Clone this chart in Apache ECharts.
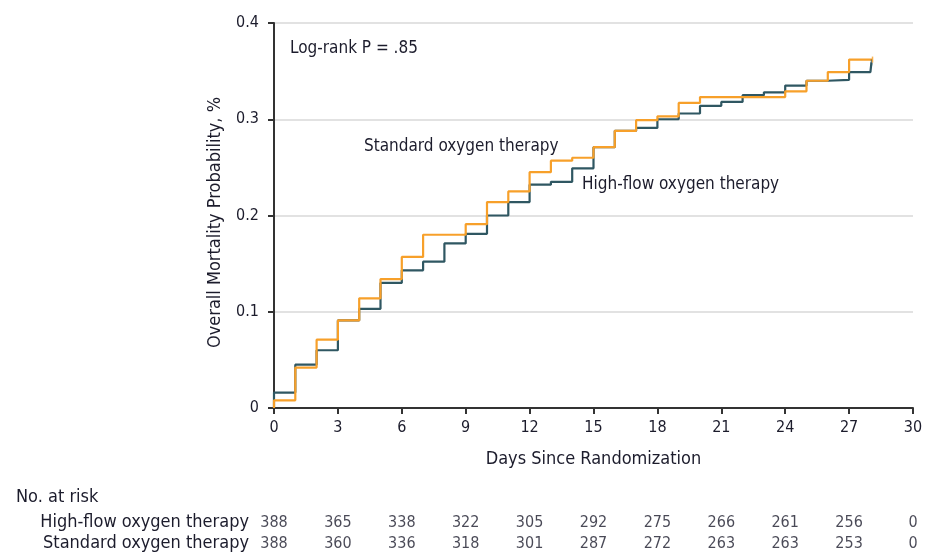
<!DOCTYPE html>
<html>
<head>
<meta charset="utf-8">
<script src="https://cdn.jsdelivr.net/npm/echarts@6/dist/echarts.min.js"></script>
<style>
html,body{margin:0;padding:0;background:#fff;}
#chart{width:928px;height:554px;}
</style>
</head>
<body>
<div id="chart"></div>
<script>
// ---- data ----
var stepDays = [0,1,2,3,4,5,6,7,8,9,10,11,12,13,14,15,16,17,18,19,20,21,22,23,24,25,26,27];
var highFlow = [0.016,0.045,0.060,0.091,0.103,0.130,0.143,0.152,0.171,0.181,0.200,0.214,0.232,0.235,0.249,0.271,0.288,0.291,0.300,0.306,0.314,0.318,0.325,0.328,0.335,0.340,0.341,0.349];
var highFlowEnd = [28, 28.05, 0.359];
var standard = [0.008,0.042,0.071,0.091,0.114,0.134,0.157,0.180,0.180,0.191,0.214,0.225,0.245,0.257,0.260,0.271,0.288,0.299,0.303,0.317,0.323,0.323,0.323,0.323,0.329,0.340,0.349,0.362];
var standardEnd = [28.1, 28.1, 0.362];
var riskDays = [0,3,6,9,12,15,18,21,24,27,30];
var riskHighFlow = [388,365,338,322,305,292,275,266,261,256,0];
var riskStandard = [388,360,336,318,301,287,272,263,263,253,0];
var groupNames = ['High-flow oxygen therapy','Standard oxygen therapy'];
var yTicks = ['0','0.1','0.2','0.3','0.4'];

var FONT = '"Liberation Sans Narrow","DejaVu Sans Condensed","Roboto Condensed","Liberation Sans",sans-serif';
var TXT = '#1c1c2c';

function buildSteps(vals, endInfo){
  var d = [[0,0]];
  for (var i=0;i<stepDays.length;i++){ d.push([stepDays[i], vals[i]]); }
  d.push([endInfo[0], vals[vals.length-1]]);
  d.push([endInfo[1], endInfo[2]]);
  return d;
}
function riskData(arr, row){
  return riskDays.map(function(d,i){ return [d, row, arr[i]]; });
}

var chart = echarts.init(document.getElementById('chart'), null, {renderer:'canvas'});
chart.setOption({
  animation:false,
  backgroundColor:'#fff',
  textStyle:{fontFamily:FONT, color:TXT},
  grid:[
    {left:274, right:15, top:23, bottom:146},
    {left:274, right:15, top:512, height:46}
  ],
  xAxis:[
    {gridIndex:0, type:'value', min:0, max:30, interval:3,
     axisLine:{lineStyle:{color:'#333', width:2}},
     axisTick:{show:true, length:6, lineStyle:{color:'#333', width:2}},
     axisLabel:{color:TXT, fontFamily:FONT, fontSize:16, margin:12},
     splitLine:{show:false},
     name:'Days Since Randomization', nameLocation:'middle', nameGap:42,
     nameTextStyle:{color:TXT, fontFamily:FONT, fontSize:18}},
    {gridIndex:1, type:'value', min:0, max:30, interval:3, show:false}
  ],
  yAxis:[
    {gridIndex:0, type:'value', min:0, max:0.4, interval:0.1,
     axisLine:{show:true, lineStyle:{color:'#333', width:2}},
     axisTick:{show:true, length:6, lineStyle:{color:'#333', width:2}},
     axisLabel:{color:TXT, fontFamily:FONT, fontSize:16, margin:15,
       formatter:function(v){ return yTicks[Math.round(v*10)]; }},
     splitLine:{show:true, lineStyle:{color:'#d9d9d9', width:1.5}},
     name:'Overall Mortality Probability, %', nameLocation:'middle', nameGap:50, nameRotate:90,
     nameTextStyle:{color:TXT, fontFamily:FONT, fontSize:18, padding:[0,14,0,0]}},
    {gridIndex:1, type:'category', data:groupNames, inverse:true,
     axisLine:{show:false}, axisTick:{show:false}, splitLine:{show:false},
     axisLabel:{color:TXT, fontFamily:FONT, fontSize:18, margin:25, interval:0, hideOverlap:false}}
  ],
  title:{text:'No. at risk', left:11, top:483,
    textStyle:{color:TXT, fontFamily:FONT, fontSize:18, fontWeight:'normal'}},
  graphic:[
    {type:'text', left:290, top:40, style:{text:'Log-rank P = .85', fill:TXT, font:'17px '+FONT}},
    {type:'text', left:364, top:138, style:{text:'Standard oxygen therapy', fill:TXT, font:'17px '+FONT}},
    {type:'text', left:582, top:176, style:{text:'High-flow oxygen therapy', fill:TXT, font:'17px '+FONT}}
  ],
  series:[
    {name:'High-flow oxygen therapy', type:'line', xAxisIndex:0, yAxisIndex:0, step:'end',
     data:buildSteps(highFlow, highFlowEnd), showSymbol:false, symbol:'none',
     lineStyle:{color:'#2f5762', width:2.2}, z:3},
    {name:'Standard oxygen therapy', type:'line', xAxisIndex:0, yAxisIndex:0, step:'end',
     data:buildSteps(standard, standardEnd), showSymbol:false, symbol:'none',
     lineStyle:{color:'#f7a02a', width:2.2}, z:4},
    {type:'scatter', xAxisIndex:0, yAxisIndex:0, symbol:'rect', symbolSize:[1.5,6],
     data:[[highFlowEnd[1], highFlowEnd[2]]], itemStyle:{color:'#2f5762'}, z:5},
    {type:'scatter', xAxisIndex:0, yAxisIndex:0, symbol:'rect', symbolSize:[1.5,6],
     data:[[standardEnd[1], standardEnd[2]]], itemStyle:{color:'#f7a02a'}, z:5},
    {type:'scatter', xAxisIndex:1, yAxisIndex:1, symbolSize:0,
     data:riskData(riskHighFlow, 0),
     label:{show:true, position:'inside', color:TXT, fontFamily:FONT, fontSize:16,
       formatter:function(p){ return String(p.value[2]); }}},
    {type:'scatter', xAxisIndex:1, yAxisIndex:1, symbolSize:0,
     data:riskData(riskStandard, 1),
     label:{show:true, position:'inside', color:TXT, fontFamily:FONT, fontSize:16,
       formatter:function(p){ return String(p.value[2]); }}}
  ]
});
</script>
</body>
</html>
